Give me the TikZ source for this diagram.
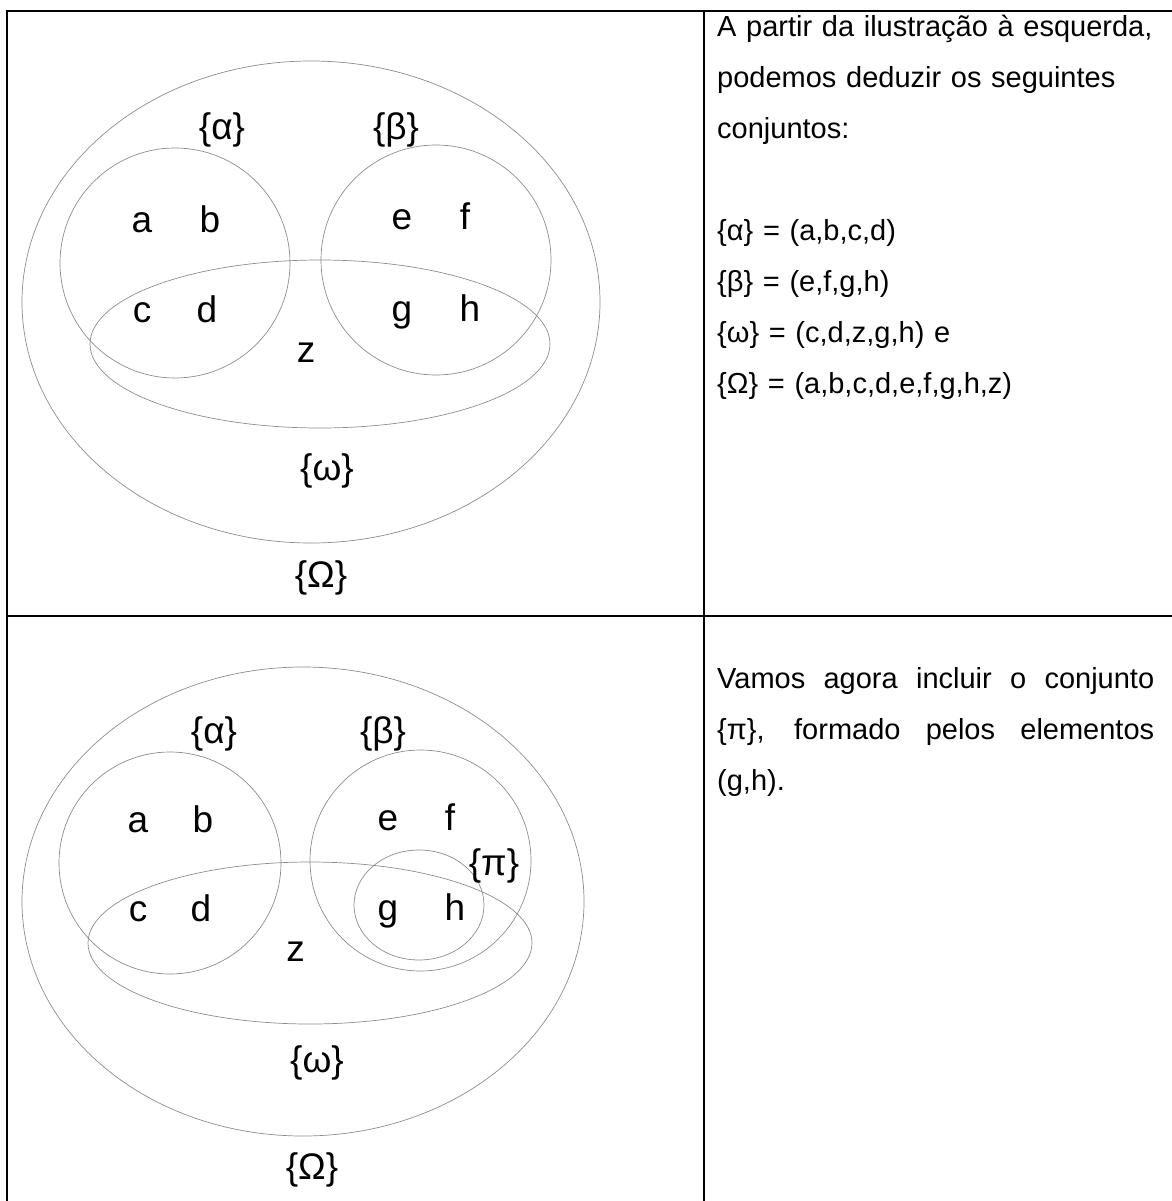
\documentclass[tikz,border=0pt]{standalone}
\usepackage{fontspec}
\setmainfont{Liberation Sans}
\usepackage{tikz}
\usetikzlibrary{positioning}

\begin{document}
\begin{tikzpicture}[x=1pt, y=-1pt,
  rule/.style={line width=2pt},
  setline/.style={draw=black!45, line width=0.7pt},
  elem/.style={inner sep=0pt, anchor=base, font=\fontsize{37}{44}\selectfont},
  setname/.style={inner sep=0pt, font=\fontsize{37}{44}\selectfont},
  note/.style={inner sep=0pt, anchor=base west, text width=437pt,
               font=\fontsize{29}{51}\selectfont},
]
  \useasboundingbox (0,0) rectangle (1171,1201);

  % TABLE
  \draw[rule] (6,11) -- (1173,11);
  \draw[rule] (7,10) -- (7,1203);
  \draw[rule] (704,10) -- (704,1203);
  \draw[rule] (6,616) -- (1173,616);

  % TOP ROW
  \draw[setline] (311,302) ellipse [x radius=289pt, y radius=241pt];
  \draw[setline] (175,263) circle [radius=115pt];
  \draw[setline] (436,260) circle [radius=115pt];
  \draw[setline] (320,344) ellipse [x radius=230pt, y radius=84pt];
  \node[setname] (t-alpha) at (222,130) {\{α\}};
  \node[setname] (t-beta) at (396,130) {\{β\}};
  \node[setname] (t-omega) at (327,471) {\{ω\}};
  \node[setname] (t-Omega) at (321,578) {\{Ω\}};
  \node[elem] (t-a) at (142,232) {a};
  \node[elem] (t-b) at (210,232) {b};
  \node[elem] (t-e) at (402,229) {e};
  \node[elem] (t-f) at (465,229) {f};
  \node[elem] (t-c) at (142,322) {c};
  \node[elem] (t-d) at (207,322) {d};
  \node[elem] (t-g) at (402,321) {g};
  \node[elem] (t-h) at (470,321) {h};
  \node[elem] (t-z) at (306,362) {z};
  \node[note, align=left] (t-note) at (717,37) {%
    A partir da ilustração à esquerda,\\
    podemos deduzir os seguintes\\
    conjuntos:\\[51pt]
    \{α\} = (a,b,c,d)\\
    \{β\} = (e,f,g,h)\\
    \{ω\} = (c,d,z,g,h) e\\
    \{Ω\} = (a,b,c,d,e,f,g,h,z)};

  % BOTTOM ROW
  \draw[setline] (303,901.5) ellipse [x radius=281pt, y radius=234.5pt];
  \draw[setline] (170,863) circle [radius=111pt];
  \draw[setline] (420.5,860.5) circle [radius=110.5pt];
  \draw[setline] (310,943) ellipse [x radius=222pt, y radius=81pt];
  \draw[setline] (419,905) ellipse [x radius=65pt, y radius=55pt];
  \node[setname] (b-alpha) at (214,734) {\{α\}};
  \node[setname] (b-beta) at (383,734) {\{β\}};
  \node[setname] (b-pi) at (494,866) {\{π\}};
  \node[setname] (b-omega) at (317,1063) {\{ω\}};
  \node[setname] (b-Omega) at (312,1170) {\{Ω\}};
  \node[elem] (b-a) at (138,832) {a};
  \node[elem] (b-b) at (203,832) {b};
  \node[elem] (b-e) at (388,830) {e};
  \node[elem] (b-f) at (450,830) {f};
  \node[elem] (b-c) at (138,921) {c};
  \node[elem] (b-d) at (201,921) {d};
  \node[elem] (b-g) at (388,920) {g};
  \node[elem] (b-h) at (455,920) {h};
  \node[elem] (b-z) at (295.5,961) {z};
  \node[note, align=justify] (b-note) at (717,688) {%
    Vamos agora incluir o conjunto\linebreak
    \{π\}, formado pelos elementos\linebreak
    (g,h).};
\end{tikzpicture}
\end{document}
